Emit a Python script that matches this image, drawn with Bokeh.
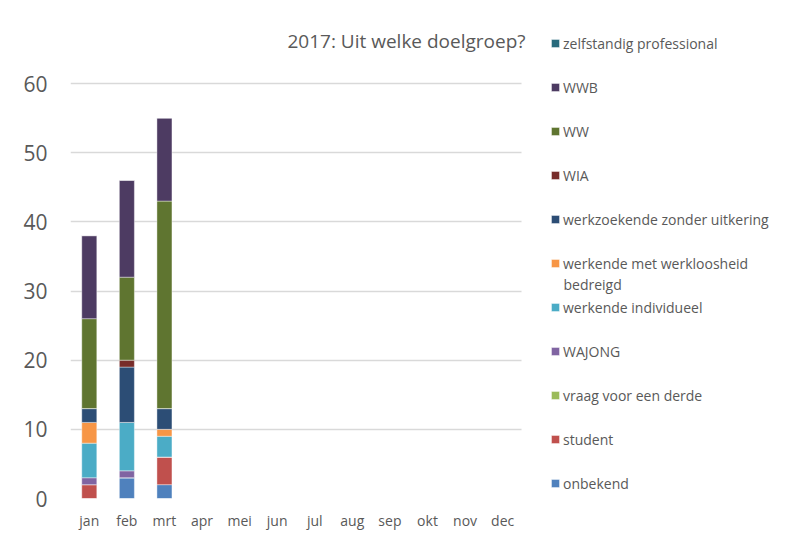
from bokeh.plotting import figure
from bokeh.models import (Range1d, FixedTicker, Legend, LegendItem, Label, ColumnDataSource)
from bokeh.embed import file_html
from bokeh.resources import INLINE

months = ["jan", "feb", "mrt", "apr", "mei", "jun", "jul", "aug", "sep", "okt", "nov", "dec"]

series = ["onbekend", "student", "vraag voor een derde", "WAJONG", "werkende individueel",
          "werkende met werkloosheid bedreigd", "werkzoekende zonder uitkering", "WIA",
          "WW", "WWB", "zelfstandig professional"]

onbekend = [0, 3, 2, 0, 0, 0, 0, 0, 0, 0, 0, 0]
student = [2, 0, 4, 0, 0, 0, 0, 0, 0, 0, 0, 0]
vraag_derde = [0, 0, 0, 0, 0, 0, 0, 0, 0, 0, 0, 0]
wajong = [1, 1, 0, 0, 0, 0, 0, 0, 0, 0, 0, 0]
werkende_individueel = [5, 7, 3, 0, 0, 0, 0, 0, 0, 0, 0, 0]
werkende_bedreigd = [3, 0, 1, 0, 0, 0, 0, 0, 0, 0, 0, 0]
werkzoekende = [2, 8, 3, 0, 0, 0, 0, 0, 0, 0, 0, 0]
wia = [0, 1, 0, 0, 0, 0, 0, 0, 0, 0, 0, 0]
ww = [13, 12, 30, 0, 0, 0, 0, 0, 0, 0, 0, 0]
wwb = [12, 14, 12, 0, 0, 0, 0, 0, 0, 0, 0, 0]
zelfstandig = [0, 0, 0, 0, 0, 0, 0, 0, 0, 0, 0, 0]

colors = ["#4F81BD", "#C0504D", "#9BBB59", "#8064A2", "#4BACC6", "#F79646",
          "#2C4D75", "#772C2A", "#5F7530", "#4D3B62", "#276A7C"]

y_ticks = [0, 10, 20, 30, 40, 50, 60]

values = [onbekend, student, vraag_derde, wajong, werkende_individueel, werkende_bedreigd,
          werkzoekende, wia, ww, wwb, zelfstandig]
keys = ["s%d" % i for i in range(len(series))]
xpos = list(range(len(months)))
data = {"x": xpos}
for k, v in zip(keys, values):
    data[k] = v
source = ColumnDataSource(data)

FONT = "Open Sans"
GREY = "#595959"
LEG_SIZE = "14px"

p = figure(width=784, height=532, x_range=Range1d(-0.5, 18.5),
           y_range=Range1d(0, 72.0), output_backend="svg", toolbar_location=None,
           min_border_left=70, min_border_right=0, min_border_top=0, min_border_bottom=34)
p.outline_line_color = None
p.background_fill_color = "white"
p.border_fill_color = "white"

renderers = p.vbar_stack(keys, x="x", width=0.4, source=source, color=colors,
                         line_color="white", line_alpha=0.5, line_width=0.8)

p.xgrid.grid_line_color = None
p.ygrid.grid_line_color = "#d9d9d9"
p.ygrid.grid_line_width = 1.3
p.ygrid.cross_bounds = (-0.5, len(months) - 0.5)
p.yaxis.ticker = FixedTicker(ticks=y_ticks)
p.xaxis.ticker = FixedTicker(ticks=xpos)
p.xaxis.major_label_overrides = {i: m for i, m in zip(xpos, months)}
p.xaxis.axis_line_color = None
p.yaxis.axis_line_color = None
for ax in (p.xaxis[0], p.yaxis[0]):
    ax.major_tick_line_color = None
    ax.minor_tick_line_color = None
    ax.major_tick_out = 0
    ax.major_tick_in = 0
    ax.minor_tick_out = 0
    ax.major_label_text_font = FONT
    ax.major_label_text_color = GREY
p.yaxis.major_label_text_font_size = "21px"
p.yaxis.major_label_standoff = 23
p.xaxis.major_label_text_font_size = "14px"
p.xaxis.major_label_standoff = 12

# legend in reverse stacking order; the long label wraps onto a second line below
items = [LegendItem(label=s, renderers=[r]) for s, r in zip(series, renderers)]
items = items[::-1]
items[5] = LegendItem(label="werkende met werkloosheid", renderers=[renderers[5]])
legend = Legend(items=items, location=(480, -7), orientation="vertical",
                label_text_font=FONT, label_text_font_size=LEG_SIZE, label_text_color=GREY,
                glyph_width=10, glyph_height=10, label_height=44, label_standoff=3,
                spacing=0, padding=0, margin=0, border_line_color=None,
                background_fill_alpha=0)
p.add_layout(legend)

wrap = Label(x=493, y=214, x_units="screen", y_units="screen", text="bedreigd",
             text_font=FONT, text_font_size=LEG_SIZE, text_color=GREY,
             text_align="left", text_baseline="middle")
p.add_layout(wrap)

title = Label(x=455, y=458, x_units="screen", y_units="screen",
              text="2017: Uit welke doelgroep?", text_font=FONT,
              text_font_size="19px", text_color=GREY, text_align="right",
              text_baseline="middle")
p.add_layout(title)

open("out.html", "w").write(file_html(p, INLINE))
